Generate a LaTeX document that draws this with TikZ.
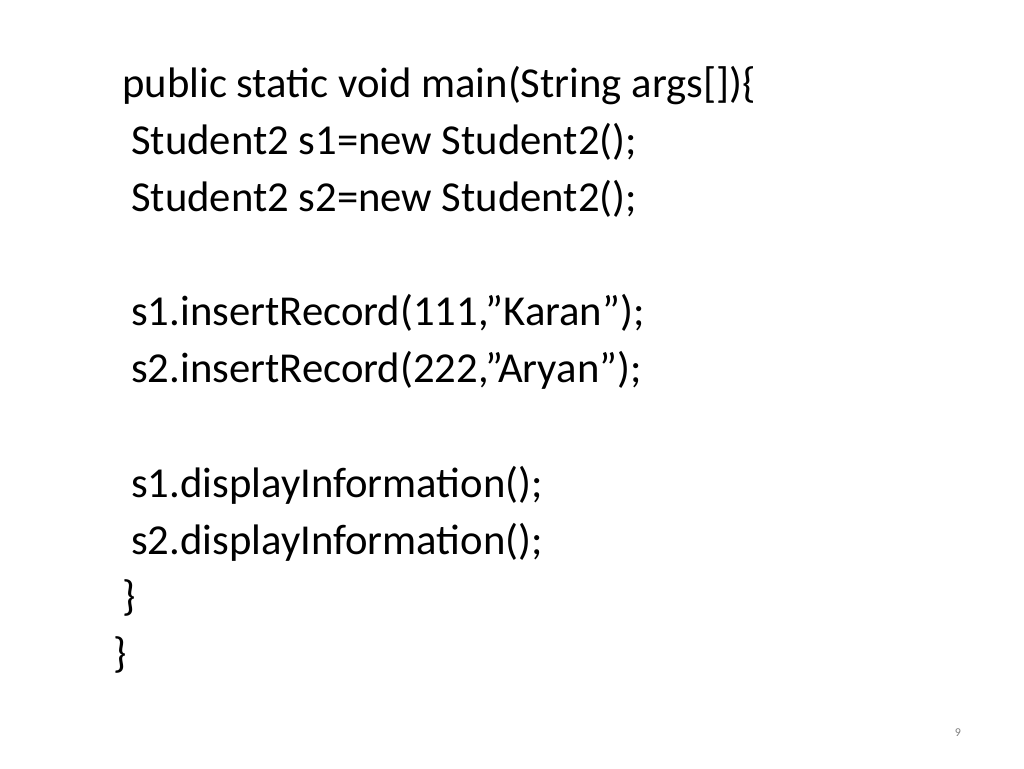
\documentclass[tikz,border=0pt]{standalone}
\usepackage{fontspec}
\setmainfont{Carlito}
\begin{document}
\begin{tikzpicture}[x=0.75pt,y=-0.75pt,
  code/.style={anchor=base west,inner sep=0pt,font=\fontsize{32}{38}\selectfont}]
\useasboundingbox[fill=white] (0,0) rectangle (1024,768);
\node[code] (l1) at (122,97) {public static void main(String args[])\{};
\node[code] (l2) at (131,154) {Student2 s1=new Student2();};
\node[code] (l3) at (131,211) {Student2 s2=new Student2();};
\node[code] (l4) at (131,325) {s1.insertRecord(111,"Karan");};
\node[code] (l5) at (131,382) {s2.insertRecord(222,"Aryan");};
\node[code] (l6) at (131,497) {s1.displayInformation();};
\node[code] (l7) at (131,554) {s2.displayInformation();};
\node[code] (l8) at (122,610) {\}};
\node[code] (l9) at (113,667) {\}};
\node[anchor=base,inner sep=0pt,text=gray,font=\fontsize{9}{10}\selectfont] (pn) at (958,736) {9};
\end{tikzpicture}
\end{document}
